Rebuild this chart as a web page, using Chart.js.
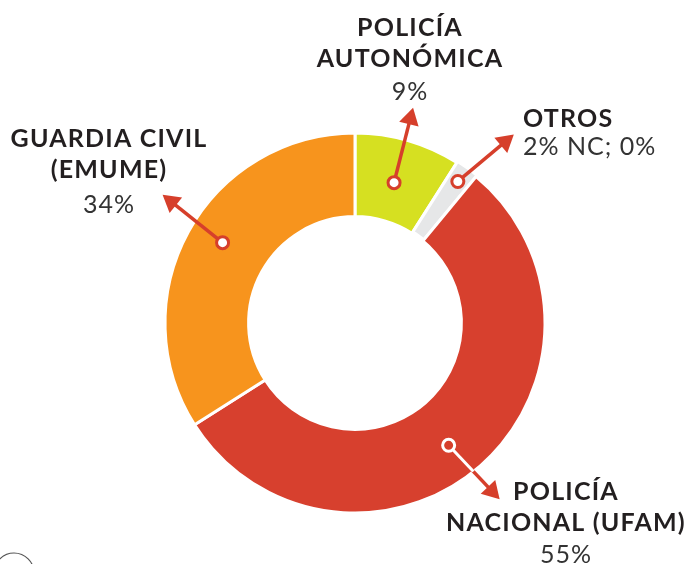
<!DOCTYPE html>
<html>
<head>
<meta charset="utf-8">
<script src="https://cdn.jsdelivr.net/npm/chart.js@4/dist/chart.umd.min.js"></script>
<style>
  html, body { margin: 0; padding: 0; background: #ffffff; }
  #wrap { width: 691px; height: 564px; position: relative; }
</style>
</head>
<body>
<div id="wrap"><canvas id="chart" width="691" height="564"></canvas></div>
<script>
// Data (clockwise from 12 o'clock)
const categories = ["Policía Autonómica", "Otros", "Policía Nacional (UFAM)", "Guardia Civil (EMUME)"];
const shares = [9, 2, 55, 34];
const titleLines = [["POLICÍA", "AUTONÓMICA"], ["OTROS"], ["POLICÍA", "NACIONAL (UFAM)"], ["GUARDIA CIVIL", "(EMUME)"]];
const shareLabels = ["9%", "2% NC; 0%", "55%", "34%"];
const sliceColors = ["#d6e021", "#e6e7e8", "#d7402e", "#f7941d"];

// Callout layout: marker spot inside slice, arrow vector, text anchor
const callouts = [
  { t: 0.48, rf: 0.47, arrow: [19, -75], x: 410, align: "center", baselines: [36, 67, 100] },
  { t: 0.50, rf: 0.82, arrow: [56, -47], x: 523, align: "left", baselines: [127, 155] },
  { t: 0.52, rf: 0.57, arrow: [51, 54], x: 566, align: "center", baselines: [500, 531, 563], onRed: true },
  { t: 0.52, rf: 0.58, arrow: [-60, -48], x: 109, align: "center", baselines: [147, 178, 213] },
];

const RED = "#d63f2b";

const calloutPlugin = {
  id: "callouts",
  afterDraw(chart) {
    const ctx = chart.ctx;
    const arcs = chart.getDatasetMeta(0).data;
    ctx.save();
    arcs.forEach((arc, i) => {
      const c = callouts[i];
      const p = arc.getProps(["x", "y", "startAngle", "endAngle", "innerRadius", "outerRadius"], true);
      const a = p.startAngle + (p.endAngle - p.startAngle) * c.t;
      const r = p.innerRadius + (p.outerRadius - p.innerRadius) * c.rf;
      const mx = p.x + Math.cos(a) * r;
      const my = p.y + Math.sin(a) * r;
      const tx = mx + c.arrow[0];
      const ty = my + c.arrow[1];
      const len = Math.hypot(c.arrow[0], c.arrow[1]);
      const ux = c.arrow[0] / len, uy = c.arrow[1] / len;
      const headLen = 17, headW = 10;
      // shaft
      ctx.strokeStyle = RED;
      ctx.lineWidth = 3.5;
      ctx.beginPath();
      ctx.moveTo(mx, my);
      ctx.lineTo(tx - ux * (headLen - 2), ty - uy * (headLen - 2));
      ctx.stroke();
      if (c.onRed) {
        // part of the shaft lying on the red slice is drawn in white
        ctx.save();
        ctx.beginPath();
        ctx.arc(p.x, p.y, p.outerRadius, 0, Math.PI * 2);
        ctx.clip();
        ctx.strokeStyle = "#ffffff";
        ctx.lineWidth = 3;
        ctx.beginPath();
        ctx.moveTo(mx, my);
        ctx.lineTo(tx, ty);
        ctx.stroke();
        ctx.restore();
      }
      // head
      ctx.fillStyle = RED;
      ctx.beginPath();
      ctx.moveTo(tx, ty);
      ctx.lineTo(tx - ux * headLen - uy * headW, ty - uy * headLen + ux * headW);
      ctx.lineTo(tx - ux * headLen + uy * headW, ty - uy * headLen - ux * headW);
      ctx.closePath();
      ctx.fill();
      // marker
      ctx.fillStyle = c.onRed ? RED : "#ffffff";
      ctx.strokeStyle = c.onRed ? "#ffffff" : RED;
      ctx.lineWidth = 3;
      ctx.beginPath();
      ctx.arc(mx, my, 6, 0, Math.PI * 2);
      ctx.fill();
      ctx.stroke();

      // text
      ctx.textAlign = c.align;
      ctx.textBaseline = "alphabetic";
      const lines = titleLines[i];
      ctx.fillStyle = "#231f20";
      ctx.font = "bold 25px Lato, 'DejaVu Sans', sans-serif";
      ctx.letterSpacing = "1.2px";
      lines.forEach((txt, k) => ctx.fillText(txt, c.x, c.baselines[k]));
      ctx.fillStyle = "#333333";
      ctx.font = "25px Lato, 'DejaVu Sans', sans-serif";
      ctx.letterSpacing = "1px";
      ctx.fillText(shareLabels[i], c.x, c.baselines[lines.length]);
    });
    // small circle outline in the lower-left corner
    ctx.letterSpacing = "0px";
    ctx.strokeStyle = "#555555";
    ctx.lineWidth = 1.2;
    ctx.beginPath();
    ctx.arc(14, 573, 20, 0, Math.PI * 2);
    ctx.stroke();
    ctx.restore();
  },
};

new Chart(document.getElementById("chart"), {
  type: "doughnut",
  data: {
    labels: categories,
    datasets: [
      {
        data: shares,
        backgroundColor: sliceColors,
        borderColor: "#ffffff",
        borderWidth: 3,
        offset: [0, 3, 0, 0],
      },
    ],
  },
  options: {
    responsive: false,
    animation: false,
    cutout: "56%",
    layout: { padding: { left: 162, right: 143, top: 130, bottom: 48 } },
    plugins: {
      legend: { display: false },
      tooltip: { enabled: false },
    },
  },
  plugins: [calloutPlugin],
});
</script>
</body>
</html>
